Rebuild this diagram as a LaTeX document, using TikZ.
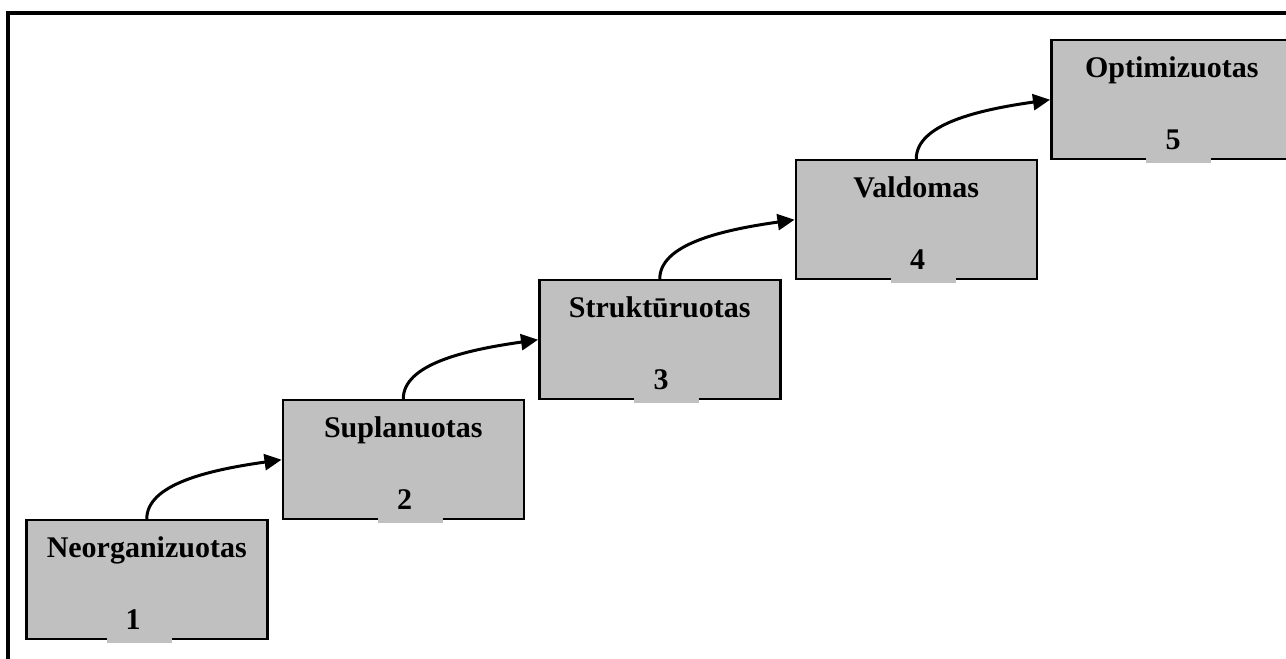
\documentclass[tikz,border=0pt]{standalone}
\usepackage{fontspec}
\setmainfont{Liberation Serif}
\usetikzlibrary{arrows.meta}
\definecolor{boxgray}{RGB}{192,192,192}
\begin{document}
\begin{tikzpicture}[x=1pt,y=1pt,
    stagebox/.style={draw,line width=2.5pt,fill=boxgray,anchor=north west,
      minimum width=241pt,minimum height=119pt,inner sep=0pt},
    stagetitle/.style={anchor=base,font=\fontsize{30}{34}\selectfont\bfseries,inner sep=0pt},
    stagenum/.style={anchor=base,font=\fontsize{30}{34}\selectfont\bfseries,inner sep=0pt},
    gapbar/.style={anchor=west,fill=boxgray,minimum width=65pt,minimum height=5pt,inner sep=0pt},
    flow/.style={line width=3pt,-{Triangle[length=17pt,width=16pt]}}]
  \useasboundingbox (0,0) rectangle (1286,659);
  \draw[line width=4pt] (8,-20) rectangle (1310,645.5);
  \node[stagebox] (s1) at (25,140) {};
  \node[stagetitle] (s1t) at ([yshift=-39pt]s1.north) {Neorganizuotas};
  \node[gapbar] (s1g) at ([xshift=82pt]s1.south west) {};
  \node[stagenum] (s1n) at ([xshift=108pt,yshift=-111pt]s1.north west) {1};
  \node[stagebox] (s2) at (281.5,260) {};
  \node[stagetitle] (s2t) at ([yshift=-39pt]s2.north) {Suplanuotas};
  \node[gapbar] (s2g) at ([xshift=96pt]s2.south west) {};
  \node[stagenum] (s2n) at ([xshift=123pt,yshift=-111pt]s2.north west) {2};
  \node[stagebox] (s3) at (538,380) {};
  \node[stagetitle] (s3t) at ([yshift=-39pt]s3.north) {Struktūruotas};
  \node[gapbar] (s3g) at ([xshift=96pt]s3.south west) {};
  \node[stagenum] (s3n) at ([xshift=123pt,yshift=-111pt]s3.north west) {3};
  \node[stagebox] (s4) at (794.5,500) {};
  \node[stagetitle] (s4t) at ([yshift=-39pt]s4.north) {Valdomas};
  \node[gapbar] (s4g) at ([xshift=96pt]s4.south west) {};
  \node[stagenum] (s4n) at ([xshift=123pt,yshift=-111pt]s4.north west) {4};
  % last box runs off the right edge
  \node[stagebox,minimum width=270pt] (s5) at (1050,620) {};
  \node[stagetitle] (s5t) at ([xshift=-14.5pt,yshift=-39pt]s5.north) {Optimizuotas};
  \node[gapbar] (s5g) at ([xshift=96pt]s5.south west) {};
  \node[stagenum] (s5n) at ([xshift=123pt,yshift=-111pt]s5.north west) {5};
  \foreach \a/\b in {s1/s2,s2/s3,s3/s4,s4/s5}
    \draw[flow] (\a.north) to[out=90,in=188,out looseness=0.6,in looseness=1.3] (\b.west);
\end{tikzpicture}
\end{document}
